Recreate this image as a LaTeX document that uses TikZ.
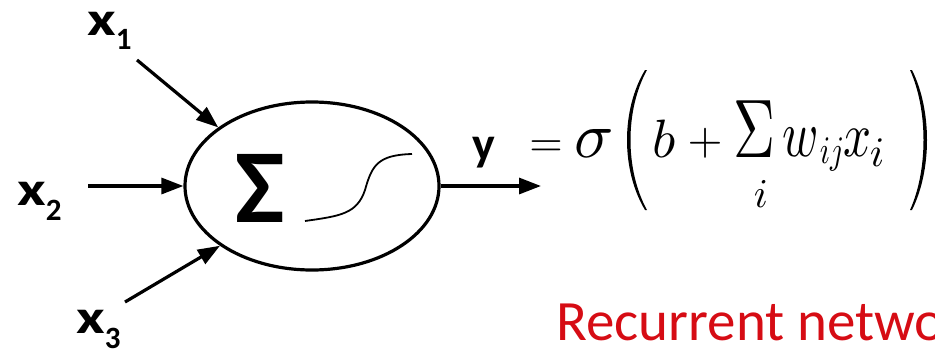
\documentclass[tikz,border=0pt]{standalone}
\usepackage{fontspec}
\setmainfont{Carlito}
\usetikzlibrary{arrows.meta,shapes.geometric}
\definecolor{recred}{RGB}{214,12,20}
\begin{document}
\begin{tikzpicture}[x=1pt,y=-1pt,
  conn/.style={line width=3.2pt,-{Triangle[length=22pt,width=16pt]}},
  lab/.style={font=\bfseries\fontsize{48}{48}\selectfont, inner sep=0pt, anchor=base west},
  mth/.style={inner sep=0pt, anchor=base},
  paren/.style={fill=black}
]
\useasboundingbox (0,0) rectangle (935,354);
\begin{scope}
\clip (0,0) rectangle (935,354);
% neuron
\node[draw, ellipse, line width=3.2pt, minimum width=254pt, minimum height=168pt, inner sep=0pt] (n) at (312,186) {};
\node[font=\bfseries\fontsize{105}{105}\selectfont, inner sep=0pt, anchor=base] (sum) at (260,222) {Σ};
\draw[line width=1.8pt] (305,221) .. controls (340,216) and (357,214) .. (365,190)
   .. controls (372,165) and (378,155) .. (412,154);
% input labels
\node[lab] (x1) at (87,35) {\scalebox{1.3}[1]{x}\raisebox{-14pt}{\fontsize{31}{31}\selectfont 1}};
\node[lab] (x2) at (17,205) {\scalebox{1.3}[1]{x}\raisebox{-15pt}{\fontsize{31}{31}\selectfont 2}};
\node[lab] (x3) at (76,333) {\scalebox{1.3}[1]{x}\raisebox{-15pt}{\fontsize{31}{31}\selectfont 3}};
\coordinate (s1) at (137,60);
\coordinate (s2) at (88,186);
\coordinate (s3) at (125,302);
\coordinate (yend) at (541,186);
\draw[conn] (s1) -- (n.148);
\draw[conn] (s2) -- (n.west);
\draw[conn] (s3) -- (n.213);
\draw[conn] (n.east) -- (yend);
\node[lab, anchor=base] (y) at (484,160) {y};
% equation
\node[mth, scale=4.3] (eq) at (546,156) {$=$};
\node[mth, scale=6.5] (sig) at (594,157) {$\sigma$};
\fill[paren] (645,70) .. controls (621,110) and (621,170) .. (645,210) -- (647,210)
   .. controls (625,170) and (625,110) .. (647,70) -- cycle;
\node[mth, scale=5.4] (b) at (664.5,157) {$b$};
\node[mth, scale=4.5] (plus) at (705,154) {$+$};
\node[mth, xscale=5.8, yscale=8.3] (bigsum) at (754,157) {$\Sigma$};
\node[mth, scale=4.1] (si) at (761,207) {$i$};
\node[mth, xscale=4.9, yscale=6.6] (w) at (801,156) {$w$};
\node[mth, xscale=3.0, yscale=3.9] (ij) at (832,163) {$ij$};
\node[mth, xscale=4.9, yscale=6.3] (xx) at (857.5,156) {$x$};
\node[mth, scale=4.2] (xi) at (877,166) {$i$};
\fill[paren] (912,70) .. controls (932,110) and (932,170) .. (912,210) -- (910,210)
   .. controls (928,170) and (928,110) .. (910,70) -- cycle;
% red caption
\node[anchor=base west, font=\fontsize{57}{57}\selectfont, text=recred, inner sep=0pt] (rec) at (556,340) {Recurrent netwo};
\end{scope}
\end{tikzpicture}
\end{document}
